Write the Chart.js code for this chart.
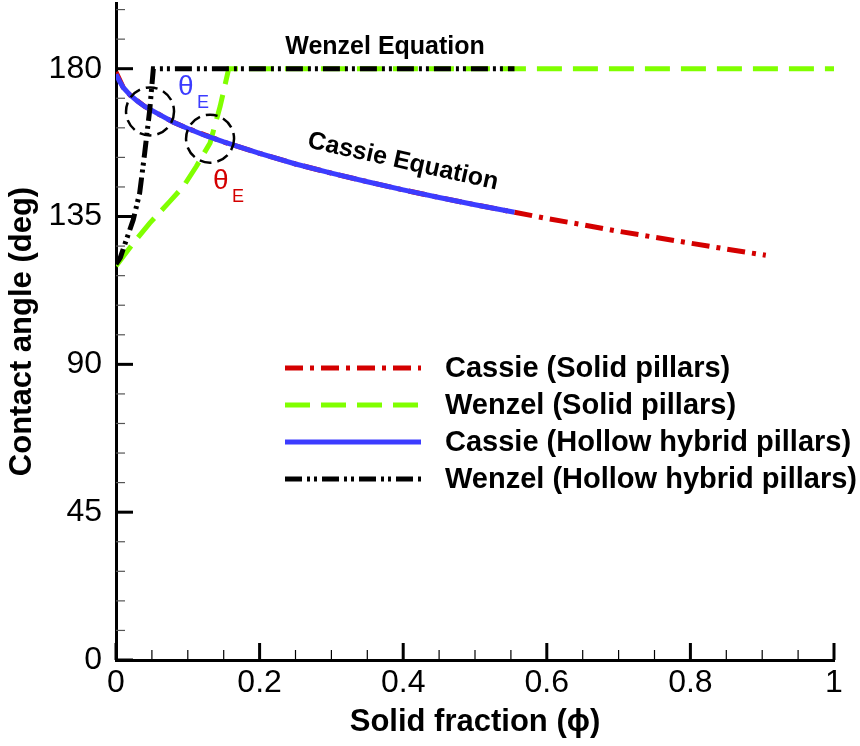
<!DOCTYPE html>
<html>
<head>
<meta charset="utf-8">
<script src="https://cdn.jsdelivr.net/npm/chart.js@4.4.1/dist/chart.umd.min.js"></script>
<style>
  html, body { margin: 0; padding: 0; background: #fff; }
  #chart { display: block; }
</style>
</head>
<body>
<canvas id="chart" width="860" height="746"></canvas>
<script>
// --- Data ---
// Cassie, solid pillars (red dash-dot)
const phiCassieSolid   = [0, 0.01, 0.02, 0.04, 0.06, 0.08, 0.1, 0.15, 0.2, 0.25, 0.3, 0.35, 0.4, 0.45, 0.5, 0.555, 0.6, 0.65, 0.7, 0.75, 0.8, 0.85, 0.905];
const angleCassieSolid = [179, 174.3, 171.9, 168.5, 166.1, 163.7, 161.8, 157.7, 154.2, 151.0, 148.2, 145.6, 143.1, 140.8, 138.6, 136.3, 134.4, 132.5, 130.5, 128.7, 126.9, 125.1, 123.2];

// Wenzel, solid pillars (green dashed)
const phiWenzelSolid   = [0, 0.003, 0.024, 0.047, 0.075, 0.094, 0.112, 0.131, 0.145, 0.157, 1.0];
const angleWenzelSolid = [120, 120.8, 126.9, 133.0, 139.6, 144.2, 150.3, 157.4, 168.5, 180, 180];

// Cassie, hollow hybrid pillars (blue solid)
const phiCassieHollow   = [0, 0.005, 0.01, 0.02, 0.03, 0.04, 0.06, 0.08, 0.1, 0.125, 0.15, 0.2, 0.25, 0.3, 0.35, 0.4, 0.45, 0.5, 0.555];
const angleCassieHollow = [178.3, 176.2, 174.3, 171.9, 170.1, 168.5, 166.1, 163.7, 161.8, 159.6, 157.7, 154.2, 151.0, 148.2, 145.6, 143.1, 140.8, 138.6, 136.3];

// Wenzel, hollow hybrid pillars (black dash-dot-dot)
const phiWenzelHollow   = [0, 0.006, 0.013, 0.024, 0.033, 0.04, 0.047, 0.052, 0.555];
const angleWenzelHollow = [120.5, 122.5, 127, 134, 142.2, 154.4, 167.5, 180, 180];

// Axis ticks
const xTickValues = [0, 0.05, 0.1, 0.15, 0.2, 0.25, 0.3, 0.35, 0.4, 0.45, 0.5, 0.55, 0.6, 0.65, 0.7, 0.75, 0.8, 0.85, 0.9, 0.95, 1];
const xTickLabels = ['0', '0.2', '0.4', '0.6', '0.8', '1'];
const yTickValues = [0, 9, 18, 27, 36, 45, 54, 63, 72, 81, 90, 99, 108, 117, 126, 135, 144, 153, 162, 171, 180, 189, 198];
const yTickLabels = ['0', '45', '90', '135', '180'];

const FONT = "'Liberation Sans', Arial, Helvetica, sans-serif";

function toPoints(xs, ys) {
    return xs.map((x, i) => ({ x: x, y: ys[i] }));
}

function isLabeled(value, labels) {
    return labels.some(l => Math.abs(parseFloat(l) - value) < 1e-9);
}

// --- Decorations: inward ticks, annotations, legend ---
const decorPlugin = {
    id: 'decor',
    afterDraw(chart) {
        const ctx = chart.ctx;
        const xs = chart.scales.x;
        const ys = chart.scales.y;
        const area = chart.chartArea;
        const P = (phi, ang) => [xs.getPixelForValue(phi), ys.getPixelForValue(ang)];

        ctx.save();
        // inward tick marks
        ctx.strokeStyle = '#000';
        xs.ticks.forEach(t => {
            const major = isLabeled(t.value, xTickLabels);
            const px = xs.getPixelForValue(t.value);
            ctx.lineWidth = major ? 3 : 1.2;
            ctx.beginPath();
            ctx.moveTo(px, area.bottom);
            ctx.lineTo(px, area.bottom - (major ? 17 : 10));
            ctx.stroke();
        });
        ys.ticks.forEach(t => {
            const major = isLabeled(t.value, yTickLabels);
            const py = ys.getPixelForValue(t.value);
            ctx.lineWidth = major ? 3 : 1.2;
            ctx.strokeStyle = major ? '#000' : '#555';
            ctx.beginPath();
            ctx.moveTo(area.left, py);
            ctx.lineTo(area.left + (major ? 17 : 9), py);
            ctx.stroke();
        });

        // dashed circles around the intersections
        ctx.strokeStyle = '#000';
        ctx.lineWidth = 2.5;
        ctx.setLineDash([12, 6]);
        [[0.0474, 167.0], [0.131, 158.7]].forEach(c => {
            const [cx, cy] = P(c[0], c[1]);
            ctx.beginPath();
            ctx.arc(cx, cy, 24, 0, Math.PI * 2);
            ctx.stroke();
        });
        ctx.setLineDash([]);

        // theta_E labels
        ctx.textBaseline = 'middle';
        ctx.textAlign = 'left';
        let p = P(0.0864, 174.2);
        ctx.fillStyle = '#3c3cff';
        ctx.font = '28px ' + FONT;
        ctx.fillText('θ', p[0], p[1]);
        p = P(0.1128, 169.4);
        ctx.font = '18px ' + FONT;
        ctx.fillText('E', p[0], p[1]);

        p = P(0.1351, 145.7);
        ctx.fillStyle = '#d40000';
        ctx.font = '28px ' + FONT;
        ctx.fillText('θ', p[0], p[1]);
        p = P(0.1616, 141.0);
        ctx.font = '18px ' + FONT;
        ctx.fillText('E', p[0], p[1]);

        // equation labels
        ctx.fillStyle = '#000';
        ctx.textAlign = 'center';
        ctx.font = 'bold 25px ' + FONT;
        p = P(0.3747, 186.7);
        ctx.fillText('Wenzel Equation', p[0], p[1]);

        p = P(0.3997, 151.7);
        ctx.save();
        ctx.translate(p[0], p[1]);
        ctx.rotate(12.5 * Math.PI / 180);
        ctx.font = 'bold 25px ' + FONT;
        ctx.fillText('Cassie Equation', 0, 0);
        ctx.restore();

        // legend
        const rowsY = [368, 405, 442, 479];
        const ds = chart.data.datasets;
        ctx.textAlign = 'left';
        ctx.font = 'bold 29px ' + FONT;
        ds.forEach((d, i) => {
            const y = rowsY[i];
            ctx.strokeStyle = d.borderColor;
            ctx.lineWidth = d.borderWidth;
            ctx.lineCap = 'butt';
            ctx.setLineDash(d.borderDash || []);
            ctx.beginPath();
            ctx.moveTo(285, y);
            ctx.lineTo(421, y);
            ctx.stroke();
            ctx.setLineDash([]);
            ctx.fillStyle = '#000';
            ctx.fillText(d.label, 445, y + 1);
        });
        ctx.restore();
    }
};

const ctx = document.getElementById('chart').getContext('2d');
const chart = new Chart(ctx, {
    type: 'line',
    data: {
        datasets: [
            {
                label: 'Cassie (Solid pillars)',
                data: toPoints(phiCassieSolid, angleCassieSolid),
                borderColor: '#d40000',
                borderWidth: 5,
                borderDash: [18, 7, 4, 7],
                order: 4
            },
            {
                label: 'Wenzel (Solid pillars)',
                data: toPoints(phiWenzelSolid, angleWenzelSolid),
                borderColor: '#80ff00',
                borderWidth: 5,
                borderDash: [25, 11],
                order: 3
            },
            {
                label: 'Cassie (Hollow hybrid pillars)',
                data: toPoints(phiCassieHollow, angleCassieHollow),
                borderColor: '#3c3cff',
                borderWidth: 5,
                order: 2
            },
            {
                label: 'Wenzel (Hollow hybrid pillars)',
                data: toPoints(phiWenzelHollow, angleWenzelHollow),
                borderColor: '#000000',
                borderWidth: 5,
                borderDash: [17, 5, 3, 4, 3, 5],
                order: 1
            }
        ]
    },
    options: {
        responsive: false,
        animation: false,
        events: [],
        layout: { padding: { top: 3, right: 26, left: 0, bottom: 0 } },
        elements: {
            point: { radius: 0 },
            line: { tension: 0, borderCapStyle: 'butt', fill: false }
        },
        plugins: {
            legend: { display: false },
            tooltip: { enabled: false }
        },
        scales: {
            x: {
                type: 'linear',
                min: 0,
                max: 1,
                afterBuildTicks: s => { s.ticks = xTickValues.map(v => ({ value: v })); },
                afterFit: s => { s.height = 86; s.paddingLeft = 0; s.paddingRight = 0; },
                grid: { display: false, drawTicks: false },
                border: { display: true, color: '#000', width: 3 },
                ticks: {
                    autoSkip: false,
                    maxRotation: 0,
                    padding: 4,
                    color: '#000',
                    font: { family: FONT, size: 32 },
                    callback: v => (isLabeled(v, xTickLabels) ? String(+v.toFixed(1)) : '')
                },
                title: {
                    display: true,
                    text: 'Solid fraction (ϕ)',
                    color: '#000',
                    font: { family: FONT, size: 31, weight: 'bold' },
                    padding: { top: 0, bottom: 5 }
                }
            },
            y: {
                type: 'linear',
                min: 0,
                max: 200,
                afterBuildTicks: s => { s.ticks = yTickValues.map(v => ({ value: v })); },
                afterFit: s => { s.width = 116; s.paddingTop = 0; s.paddingBottom = 0; },
                grid: { display: false, drawTicks: false },
                border: { display: true, color: '#000', width: 3 },
                ticks: {
                    autoSkip: false,
                    padding: 14,
                    color: '#000',
                    font: { family: FONT, size: 32 },
                    callback: v => (isLabeled(v, yTickLabels) ? String(v) : '')
                },
                title: {
                    display: true,
                    text: 'Contact angle (deg)',
                    color: '#000',
                    font: { family: FONT, size: 31, weight: 'bold' },
                    padding: { top: 4, bottom: 0 }
                }
            }
        }
    },
    plugins: [decorPlugin]
});
</script>
</body>
</html>
